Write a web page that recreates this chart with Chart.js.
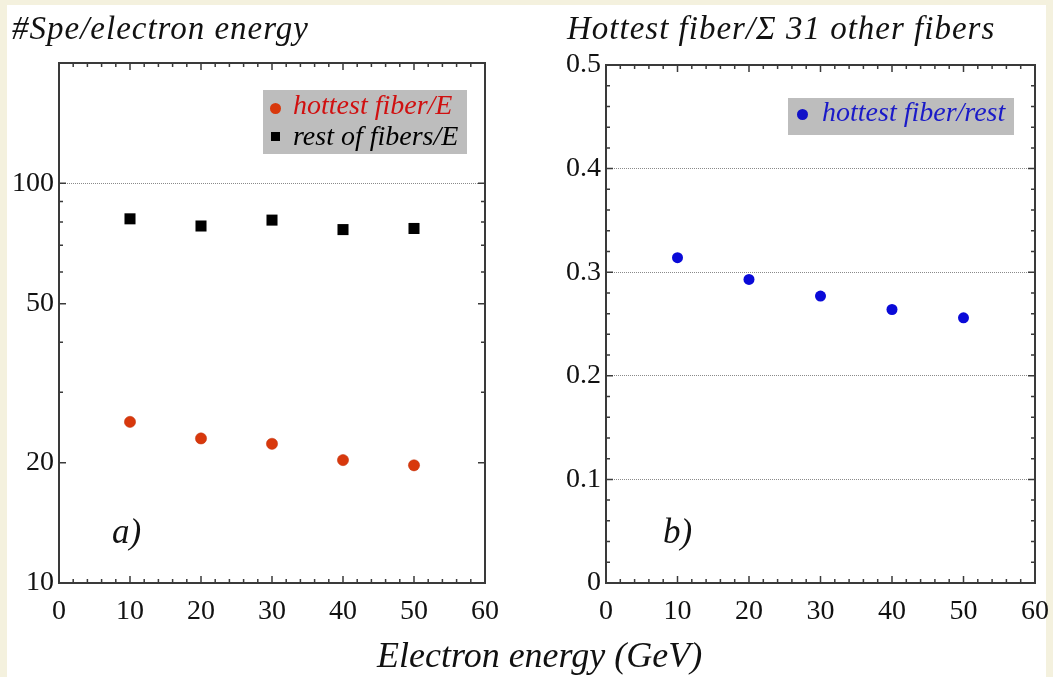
<!DOCTYPE html>
<html lang="en">
<head>
<meta charset="UTF-8">
<title>Electron energy scan</title>
<script src="https://cdn.jsdelivr.net/npm/chart.js@4"></script>
<style>
  * { margin: 0; padding: 0; box-sizing: border-box; }
  body { width: 1053px; height: 677px; background: #f4f1de; overflow: hidden; position: relative; font-family: 'Liberation Serif', 'DejaVu Serif', serif; }
  .sheet { position: absolute; left: 7px; top: 5px; width: 1039px; height: 672px; background: #fff; }
  .panel { position: absolute; top: 0; height: 677px; }
  .txt { position: absolute; font-style: italic; white-space: nowrap; color: #111; line-height: 1; }
  .title { font-size: 33px; letter-spacing: 1px; }
  .legend { position: absolute; background: #bdbdbd; }
  .legend .row { position: absolute; font-style: italic; font-size: 28px; line-height: 1; white-space: nowrap; }
  .mk { position: absolute; }
</style>
</head>
<body>
<div class="sheet"></div>

<div class="panel" style="left:0;width:530px"><canvas id="spe" width="530" height="677"></canvas></div>
<div class="panel" style="left:530px;width:523px"><canvas id="ratio" width="523" height="677"></canvas></div>

<div class="txt title" style="left:12px;top:12px">#Spe/electron energy</div>
<div class="txt title" style="left:567px;top:12px">Hottest fiber/&Sigma; 31 other fibers</div>
<div class="txt" style="left:377px;top:637px;font-size:36px">Electron energy (GeV)</div>
<div class="txt" style="left:112px;top:514px;font-size:35px">a)</div>
<div class="txt" style="left:663px;top:514px;font-size:35px">b)</div>

<div class="legend" style="left:263px;top:90px;width:204px;height:64px">
  <span class="mk" style="left:7px;top:13px;width:11px;height:11px;border-radius:50%;background:#d8380c"></span>
  <div class="row" style="left:30px;top:1px;color:#d01010">hottest fiber/E</div>
  <span class="mk" style="left:8px;top:42px;width:9px;height:9px;background:#000"></span>
  <div class="row" style="left:30px;top:32px;color:#000">rest of fibers/E</div>
</div>
<div class="legend" style="left:788px;top:98px;width:226px;height:37px">
  <span class="mk" style="left:9px;top:11px;width:11px;height:11px;border-radius:50%;background:#1010c8"></span>
  <div class="row" style="left:34px;top:0px;color:#1a1ac8">hottest fiber/rest</div>
</div>

<script>
// beam energies (GeV)
const energy = [10, 20, 30, 40, 50];
// left panel: single photoelectrons per GeV
const hottestPerE = [25.3, 23.0, 22.3, 20.3, 19.7];
const restPerE = [81.5, 78.2, 80.9, 76.6, 77.1];
// right panel: hottest fiber over the sum of the other 31
const hottestOverRest = [0.314, 0.293, 0.277, 0.264, 0.256];

// tick marks
const xMajor = [0, 10, 20, 30, 40, 50, 60];
const xMinor = [2, 4, 6, 8, 12, 14, 16, 18, 22, 24, 26, 28, 32, 34, 36, 38, 42, 44, 46, 48, 52, 54, 56, 58];
const speMajor = [10, 20, 50, 100];
const speMinor = [30, 40, 60, 70, 80, 90];
const speGrid = [100];
const ratioMajor = [0, 0.1, 0.2, 0.3, 0.4, 0.5];
const ratioMinor = [0.02, 0.04, 0.06, 0.08, 0.12, 0.14, 0.16, 0.18, 0.22, 0.24, 0.26, 0.28, 0.32, 0.34, 0.36, 0.38, 0.42, 0.44, 0.46, 0.48];
const ratioGrid = [0.1, 0.2, 0.3, 0.4];

const FONT = "'Liberation Serif', 'DejaVu Serif', serif";
const pts = ys => energy.map((x, i) => ({ x, y: ys[i] }));

// box frame with inward ticks on all four sides
function framePlugin(yMajor, yMinor) {
  return {
    id: 'frame',
    beforeDatasetsDraw(chart) {
      const { ctx, chartArea: a, scales: { x, y } } = chart;
      ctx.save();
      ctx.strokeStyle = '#3a3a3a';
      ctx.lineWidth = 1.5;
      ctx.beginPath();
      const tick = (v, len, axis) => {
        if (axis === 'x') {
          const px = x.getPixelForValue(v);
          ctx.moveTo(px, a.bottom); ctx.lineTo(px, a.bottom - len);
          ctx.moveTo(px, a.top); ctx.lineTo(px, a.top + len);
        } else {
          const py = y.getPixelForValue(v);
          ctx.moveTo(a.left, py); ctx.lineTo(a.left + len, py);
          ctx.moveTo(a.right, py); ctx.lineTo(a.right - len, py);
        }
      };
      xMajor.forEach(v => tick(v, 7, 'x'));
      xMinor.forEach(v => tick(v, 4, 'x'));
      yMajor.forEach(v => tick(v, 7, 'y'));
      yMinor.forEach(v => tick(v, 4, 'y'));
      ctx.stroke();
      ctx.lineWidth = 2;
      ctx.strokeRect(a.left, a.top, a.right - a.left, a.bottom - a.top);
      ctx.restore();
    }
  };
}

function xScale() {
  return {
    type: 'linear', min: 0, max: 60,
    afterBuildTicks: s => { s.ticks = xMajor.map(value => ({ value })); },
    afterFit: s => { s.height = 94; },
    grid: { display: false },
    border: { display: false },
    ticks: { padding: 4, color: '#111', font: { family: FONT, size: 28 } }
  };
}

new Chart(document.getElementById('spe'), {
  type: 'scatter',
  data: {
    datasets: [
      { label: 'hottest fiber/E', data: pts(hottestPerE), pointStyle: 'circle', pointRadius: 5.6, backgroundColor: '#d8380c', borderColor: '#c0300a', borderWidth: 0.5 },
      { label: 'rest of fibers/E', data: pts(restPerE), pointStyle: 'rect', pointRadius: 7.8, backgroundColor: '#000', borderColor: '#000', borderWidth: 0 }
    ]
  },
  options: {
    responsive: false, animation: false,
    layout: { padding: { top: 63, right: 45, left: 0, bottom: 0 } },
    plugins: { legend: { display: false }, tooltip: { enabled: false } },
    scales: {
      x: xScale(),
      y: {
        type: 'logarithmic', min: 10, max: 200,
        afterBuildTicks: s => { s.ticks = speMajor.map(value => ({ value })); },
        afterFit: s => { s.width = 59; },
        grid: { drawTicks: false, lineWidth: 1, color: c => speGrid.includes(c.tick && c.tick.value) ? '#8a8a8a' : 'rgba(0,0,0,0)' },
        border: { display: false, dash: [1, 1] },
        ticks: { padding: 5, color: '#111', font: { family: FONT, size: 28 }, callback: v => String(v) }
      }
    }
  },
  plugins: [framePlugin(speMajor, speMinor)]
});

new Chart(document.getElementById('ratio'), {
  type: 'scatter',
  data: {
    datasets: [
      { label: 'hottest fiber/rest', data: pts(hottestOverRest), pointStyle: 'circle', pointRadius: 5.5, backgroundColor: '#0a0ad8', borderColor: '#0a0ad8', borderWidth: 0 }
    ]
  },
  options: {
    responsive: false, animation: false,
    layout: { padding: { top: 65, right: 14, left: 0, bottom: 0 } },
    plugins: { legend: { display: false }, tooltip: { enabled: false } },
    scales: {
      x: xScale(),
      y: {
        type: 'linear', min: 0, max: 0.5,
        afterBuildTicks: s => { s.ticks = ratioMajor.map(value => ({ value })); },
        afterFit: s => { s.width = 76; },
        grid: { drawTicks: false, lineWidth: 1, color: c => ratioGrid.includes(c.tick && c.tick.value) ? '#8a8a8a' : 'rgba(0,0,0,0)' },
        border: { display: false, dash: [1, 1] },
        ticks: { padding: 5, color: '#111', font: { family: FONT, size: 28 }, callback: v => String(v) }
      }
    }
  },
  plugins: [framePlugin(ratioMajor, ratioMinor)]
});
</script>
</body>
</html>
